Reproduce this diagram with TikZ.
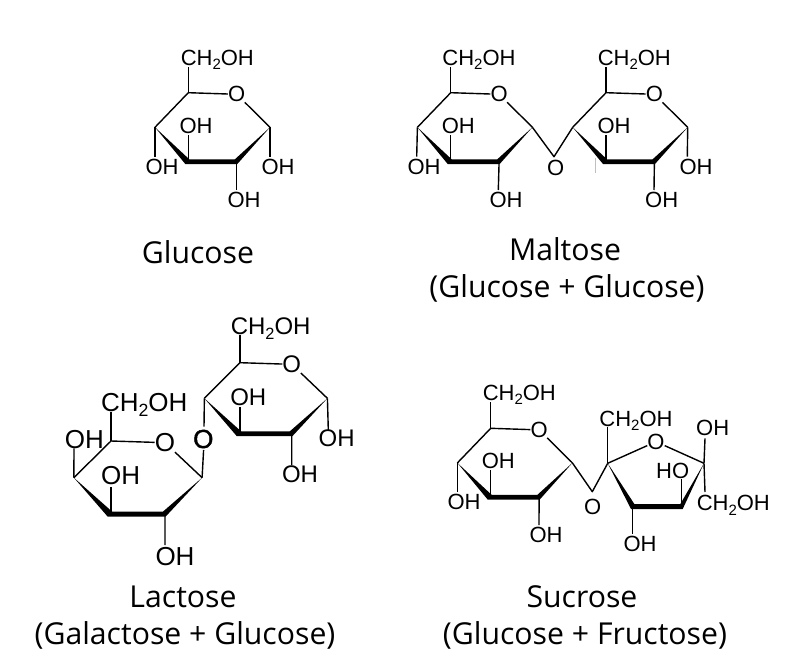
\documentclass[tikz,border=0pt]{standalone}
\usepackage{fontspec}
\usepackage{graphicx}
\setmainfont{Liberation Sans}
\newfontfamily\capfont{Open Sans}
\newfontfamily\heavyfont[FakeBold=1.6]{Liberation Sans}
\newcommand{\chtwo}{CH\raisebox{-.2em}[0pt][0pt]{\scalebox{.68}{2}}OH}
% #1 name, #2 label position, #3 bond start, #4 bond end, #5 text
\newcommand{\subst}[5]{\node (#1) at (#2) {#5}; \coordinate (#1e) at (#4); \draw[bond] (#3) -- (#1e);}
\tikzset{
  bond/.style={line width=1.4pt,black},
  sz/.style={every node/.style={inner sep=0pt,text=black,font=\fontsize{#1}{#1}\selectfont}},
  caption/.style={inner sep=0pt,text=black,font=\capfont\fontsize{30.2}{34}\selectfont},
  ring/.pic={
    \coordinate (C5) at (0,0);
    \node (O) at (48.4,1.6) {O};
    \coordinate (C1) at (81.7,34.6);
    \coordinate (C2) at (48.4,69);
    \coordinate (C3) at (0,69);
    \coordinate (C4) at (-33.3,34.6);
    \draw[bond,line join=round] (C1) -- (O) -- (C5) -- (C4);
    \fill[black] (C4) -- (1,66.6) -- (46.6,66.6) -- (C1) -- (49,71.3) -- (-3,71.3) -- cycle;
  }
}
\begin{document}
\begin{tikzpicture}[x=1pt,y=-1pt]
\useasboundingbox (0,0) rectangle (803,661);
\fill[white] (0,0) rectangle (803,661);

% Glucose
\begin{scope}[sz=22]
\pic (g) at (188.3,92.7) {ring};
\subst{gch}{217.3,58}{gC5}{188.3,66.7}{\chtwo}
\subst{gup}{196,126}{gC3}{188.3,135}{OH}
\subst{gle}{162,166.7}{gC4}{155,156.7}{OH}
\subst{gri}{278,166.7}{gC1}{270,156.7}{OH}
\subst{gbo}{244,200}{gC2}{236.7,190}{OH}
\end{scope}
\node[caption] (capg) at (198,252) {Glucose};

% Maltose
\begin{scope}[sz=22]
\pic (m) at (450.7,92.7) {ring};
\pic (n) at (606,92.7) {ring};
\subst{mch}{479,58}{mC5}{450.7,66.7}{\chtwo}
\subst{mup}{458.3,126}{mC3}{450.7,135}{OH}
\subst{mle}{424,166.7}{mC4}{416.7,156.7}{OH}
\subst{mbo}{506,200}{mC2}{498.3,190}{OH}
\subst{nch}{634.3,58}{nC5}{606,66.7}{\chtwo}
\subst{nup}{614,126}{nC3}{606,135}{OH}
\subst{nri}{696,166.7}{nC1}{687.3,156.7}{OH}
\subst{nbo}{661.7,200}{nC2}{654,190}{OH}
\node (mbr) at (555.7,168.3) {O};
\coordinate (mv) at (554,156.7);
\draw[bond,line join=round] (mC1) -- (mv) -- (nC4);
\coordinate (ga) at (595,158); \coordinate (gb) at (595,173);
\draw[black!25,line width=.8pt] (ga) -- (gb);
\end{scope}
\node[caption] (capm) at (565,249) {Maltose};
\node[caption] (capmb) at (567,288.5) {(Glucose + Glucose)};

% Lactose
\begin{scope}[sz=24]
\pic (u) [xscale=1.07,yscale=1.03] at (240,362.7) {ring};
\subst{uch}{270.7,326.5}{uC5}{240,335}{\chtwo}
\subst{uup}{248.3,397}{uC3}{240,406.7}{OH}
\subst{uri}{336.7,438}{uC1}{328.3,430}{OH}
\subst{ubo}{300,474}{uC2}{291.7,465}{OH}
\end{scope}
\begin{scope}[sz=26]
\pic (l) [xscale=1.115,yscale=1.06] at (111,441) {ring};
\subst{lch}{144.3,402.5}{lC5}{111,411.7}{\chtwo}
\subst{lle}{84.3,439.3}{lC4}{74,448.3}{OH}
\subst{lup}{120.7,476}{lC3}{111,486.7}{OH}
\subst{lbo}{175,557}{lC2}{165,545}{OH}
\node (lbr) at (203.3,439) {\heavyfont O};
\coordinate (lbra) at (204,426.7);
\coordinate (lbrb) at (203.6,450);
\draw[bond] (uC4) -- (lbra);
\draw[bond] (lbrb) -- (lC1);
\end{scope}
\node[caption] (capl) at (183,597) {Lactose};
\node[caption] (caplb) at (185,635.5) {(Galactose + Glucose)};

% Sucrose
\begin{scope}[sz=22]
\pic (s) at (490.7,428.3) {ring};
\subst{sch}{519.3,393}{sC5}{490.7,401.7}{\chtwo}
\subst{sup}{498.3,461}{sC3}{490.7,470}{OH}
\subst{sle}{464,501.7}{sC4}{457.4,491.7}{OH}
\subst{sbo}{546,535}{sC2}{539,525}{OH}
\node (sbr) at (592.7,506.7) {O};
\coordinate (sv) at (592.3,491.7);
% fructose ring
\coordinate (fA) at (607.7,463.3);
\node (fO) at (656,441.7) {O};
\coordinate (fB) at (704,463.3);
\coordinate (fC) at (681.7,506.7);
\coordinate (fD) at (632.7,506.7);
\draw[bond,line join=round] (sC1) -- (sv) -- (fA);
\draw[bond,line join=round] (fA) -- (fO) -- (fB);
\fill[black] (fA) -- (634.5,504.2) -- (680.2,504.2) -- (fB) -- (682.7,509) -- (631,509) -- cycle;
\subst{fch}{636,418.5}{fA}{607.7,426.7}{\chtwo}
\subst{ftr}{712.7,428.3}{fB}{705,438.3}{OH}
\subst{fho}{672.7,470.7}{fC}{681.7,479}{HO}
\subst{fcr}{733.3,503.3}{fB}{705,492}{\chtwo}
\subst{fbo}{640,544}{fD}{632.7,534}{OH}
\end{scope}
\node[caption] (caps) at (582,597) {Sucrose};
\node[caption] (capsb) at (585,635.5) {(Glucose + Fructose)};
\end{tikzpicture}
\end{document}
